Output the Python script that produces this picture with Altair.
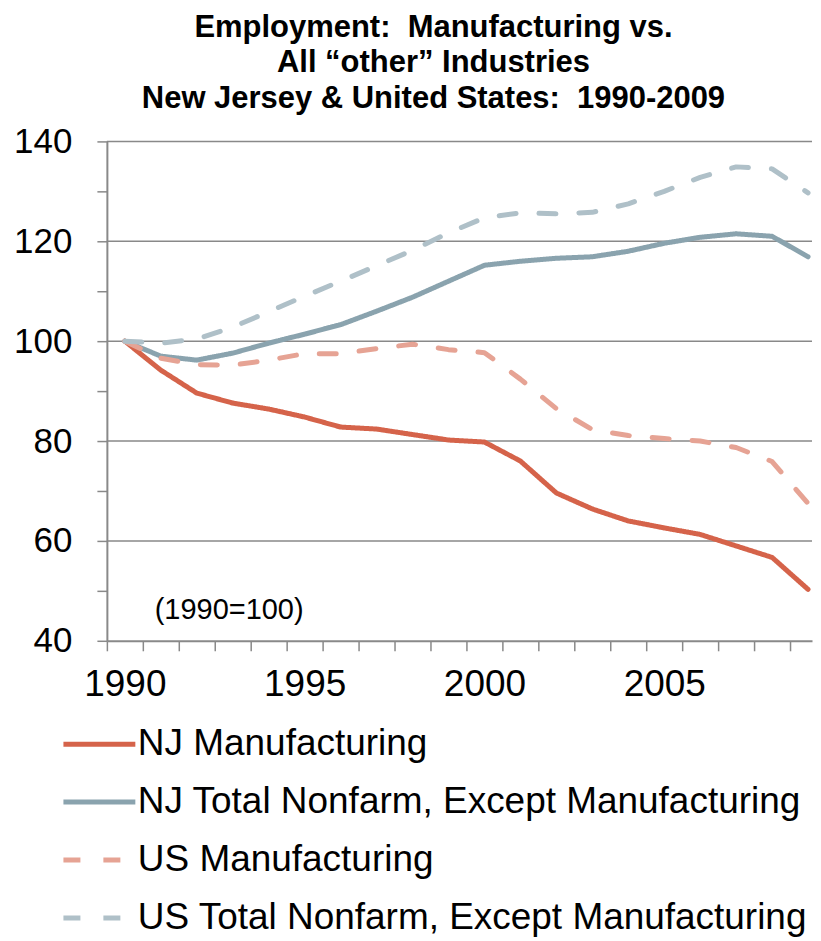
import altair as alt
import pandas as pd

# ---- data ----
years = list(range(1990, 2010))
series_names = [
    "NJ Manufacturing",
    "NJ Total Nonfarm, Except Manufacturing",
    "US Manufacturing",
    "US Total Nonfarm, Except Manufacturing",
]
nj_manufacturing = [100, 94.2, 89.6, 87.6, 86.4, 84.8, 82.8, 82.4, 81.3, 80.2,
                    79.8, 76.0, 69.6, 66.4, 64.0, 62.6, 61.3, 59.0, 56.7, 50.3]
nj_nonfarm_ex_mfg = [100, 97.0, 96.2, 97.6, 99.6, 101.4, 103.3, 106.0, 108.8, 112.0,
                     115.2, 116.0, 116.6, 116.9, 118.0, 119.6, 120.8, 121.5, 121.0, 116.9]
us_manufacturing = [100, 96.6, 95.3, 95.2, 96.2, 97.5, 97.5, 98.5, 99.4, 98.3,
                    97.7, 92.4, 86.5, 82.3, 81.1, 80.5, 80.0, 78.7, 75.9, 67.5]
us_nonfarm_ex_mfg = [100, 99.6, 100.4, 102.8, 105.9, 109.0, 112.0, 115.1, 118.2, 121.7,
                     124.7, 125.7, 125.5, 125.8, 127.5, 130.0, 132.8, 134.9, 134.5, 129.7]

title_lines = [
    "Employment:\u00a0 Manufacturing vs.",
    "All \u201cother\u201d Industries",
    "New Jersey & United States:\u00a0 1990-2009",
]
y_tick_values = list(range(40, 141, 10))
grid_values = [60, 80, 100, 120, 140]
x_tick_years = years
note_text = "(1990=100)"
note_year = 1990.83
note_value = 46.2

colors = ["#D5634A", "#8AA3AE", "#E6A394", "#AFC0C8"]
dashes = [[1, 0], [1, 0], [17, 23], [17, 23]]

# ---- tables ----
all_values = [nj_manufacturing, nj_nonfarm_ex_mfg, us_manufacturing, us_nonfarm_ex_mfg]
rows = []
for name, vals in zip(series_names, all_values):
    for yr, v in zip(years, vals):
        rows.append({"year": yr, "value": v, "series": name})
df = pd.DataFrame(rows)
grid_df = pd.DataFrame({"value": grid_values})
note_df = pd.DataFrame({"year": [note_year], "value": [note_value], "label": [note_text]})

FONT = "Liberation Sans"
GRAY = "#898989"

x_scale = alt.Scale(domain=[1989.5, 2009.11], nice=False, zero=False)
y_scale = alt.Scale(domain=[40, 140], nice=False, zero=False)

x_axis = alt.Axis(
    title=None, values=x_tick_years, format="d",
    labelExpr="datum.value % 5 === 0 ? datum.label : ''",
    tickOffset=-18, labelOffset=18, tickSize=10, tickWidth=1.5, tickColor=GRAY,
    domainColor=GRAY, domainWidth=2, grid=False,
    labelFontSize=37, labelFont=FONT, labelColor="black", labelPadding=16,
    labelFlush=False, labelOverlap=False,
)
y_axis = alt.Axis(
    title=None, values=y_tick_values,
    labelExpr="datum.value % 20 === 0 ? datum.label : ''",
    tickSize=10, tickWidth=1.5, tickColor=GRAY,
    domainColor=GRAY, domainWidth=2, grid=False,
    labelFontSize=35, labelFont=FONT, labelColor="black", labelPadding=25,
    labelOverlap=False,
)

legend = alt.Legend(
    title=None, orient="none", legendX=-46, legendY=565, direction="vertical",
    symbolType="stroke", symbolSize=5184, symbolStrokeWidth=5,
    labelFontSize=37, labelFont=FONT, labelColor="black", labelLimit=1000,
    labelOffset=0, rowPadding=1.0, padding=0,
)

grid = alt.Chart(grid_df).mark_rule(color=GRAY, strokeWidth=1.5).encode(
    y=alt.Y("value:Q", scale=y_scale, axis=y_axis),
)

lines = alt.Chart(df).mark_line(strokeWidth=5, strokeCap="round", strokeJoin="round").encode(
    x=alt.X("year:Q", scale=x_scale, axis=x_axis),
    y=alt.Y("value:Q", scale=y_scale, axis=y_axis),
    color=alt.Color("series:N", scale=alt.Scale(domain=series_names, range=colors), legend=legend),
    strokeDash=alt.StrokeDash("series:N", scale=alt.Scale(domain=series_names, range=dashes), legend=legend),
)

note = alt.Chart(note_df).mark_text(
    align="left", baseline="middle", fontSize=29, font=FONT, color="black"
).encode(
    x=alt.X("year:Q", scale=x_scale, axis=x_axis),
    y=alt.Y("value:Q", scale=y_scale, axis=y_axis),
    text="label:N",
)

chart = alt.layer(grid, lines, note).properties(
    width=706, height=500,
    padding={"left": 5, "top": 3, "right": 0, "bottom": 0},
    title=alt.TitleParams(
        text=title_lines, fontSize=31, font=FONT, fontWeight="bold",
        lineHeight=36, anchor="middle", dx=-26, offset=9, color="black",
    ),
).configure_view(stroke=None)

chart.save("out.html", embed_options={"renderer": "svg", "actions": False})
